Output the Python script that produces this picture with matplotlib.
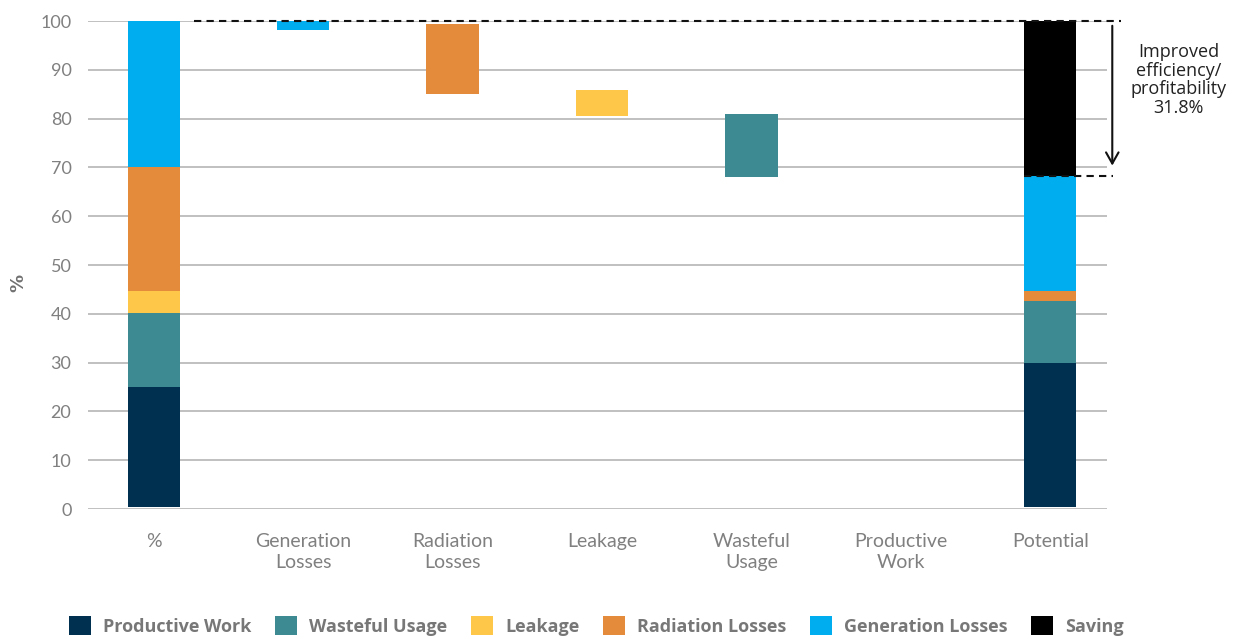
import matplotlib
matplotlib.use('Agg')
import matplotlib.pyplot as plt
from matplotlib.patches import Rectangle
import numpy as np

# categories along the x axis
categories = ['%', 'Generation\nLosses', 'Radiation\nLosses', 'Leakage',
              'Wasteful\nUsage', 'Productive\nWork', 'Potential']

# each series: (bottom, top) per category, None where no bar is drawn
productive_work = [(0.4, 25.1), None, None, None, None, None, (0.4, 30.0)]
wasteful_usage = [(25.1, 40.2), None, None, None, (68.1, 81.0), None, (30.0, 42.7)]
leakage = [(40.2, 44.7), None, None, (80.6, 85.8), None, None, None]
radiation_losses = [(44.7, 70.0), None, (85.1, 99.3), None, None, None, (42.7, 44.7)]
generation_losses = [(70.0, 100.0), (98.2, 100.0), None, None, None, None, (44.7, 68.2)]
saving = [None, None, None, None, None, None, (68.2, 100.0)]

saving_pct = 31.8
top_level = 100.0
productive_level = top_level - saving_pct

series_names = ['Productive Work', 'Wasteful Usage', 'Leakage',
                'Radiation Losses', 'Generation Losses', 'Saving']
series_data = [productive_work, wasteful_usage, leakage,
               radiation_losses, generation_losses, saving]
series_colors = ['#00304f', '#3d8a92', '#fec74a', '#e38b3b', '#00adee', '#000000']

fig = plt.figure(figsize=(12.35, 6.39), dpi=100)
ax = fig.add_axes([0.0713, 0.2034, 0.8251, 0.7637])

x = np.arange(len(categories))
bar_w = 0.35

for name, data, col in zip(series_names, series_data, series_colors):
    for xi, seg in zip(x, data):
        if seg is None:
            continue
        lo, hi = seg
        ax.bar(xi, hi - lo, bottom=lo, width=bar_w, color=col, zorder=3)

ax.set_xlim(-0.44, 6.38)
ax.set_ylim(0, 100)
ax.set_yticks(np.arange(0, 101, 10))
ax.yaxis.grid(True, color='#b5b5b5', linewidth=1.2, zorder=0)
ax.set_axisbelow(True)
for s in ax.spines.values():
    s.set_visible(False)
ax.tick_params(axis='both', length=0, colors='#808080')
ax.tick_params(axis='y', pad=12, labelsize=13)
ax.tick_params(axis='x', pad=17, labelsize=14)
ax.set_xticks(x)
ax.set_xticklabels(categories, family='Lato', linespacing=1.3)
for lab in ax.get_yticklabels():
    lab.set_family('Lato')
fig.text(18 / 1235, 1 - 283 / 639, '%', rotation=90, ha='center', va='center',
         color='#707070', fontsize=13, fontweight='bold')

# dashed reference lines and arrow
ax.plot([0.27, 6.47], [top_level, top_level], ls=(0, (3.5, 2.5)), color='#111111',
        lw=1.5, clip_on=False, zorder=4)
ax.plot([x[-1] - bar_w / 2, 6.42], [productive_level, productive_level],
        ls=(0, (3.5, 2.5)), color='#111111', lw=1.5, clip_on=False, zorder=4)
ax.annotate('', xy=(6.415, productive_level + 1.6), xytext=(6.415, top_level - 0.4),
            arrowprops=dict(arrowstyle='->,head_width=0.45,head_length=0.8',
                            color='#111111', lw=1.5),
            annotation_clip=False)
ax.text(6.86, 87.9, 'Improved\nefficiency/\nprofitability\n%.1f%%' % saving_pct,
        ha='center', va='center', fontsize=13, color='#222222', family='Open Sans',
        linespacing=1.05, clip_on=False)

handles = [Rectangle((0, 0), 1, 1, facecolor=c) for c in series_colors]
fig.legend(handles, series_names, loc='lower center', ncol=6, frameon=False,
           bbox_to_anchor=(0.483, -0.02),
           prop={'family': 'Open Sans', 'weight': 'bold', 'size': 13},
           handlelength=1.2, handleheight=1.2, handletextpad=0.7, columnspacing=1.3,
           labelcolor='#777777')

fig.savefig('out.png', dpi=100)
